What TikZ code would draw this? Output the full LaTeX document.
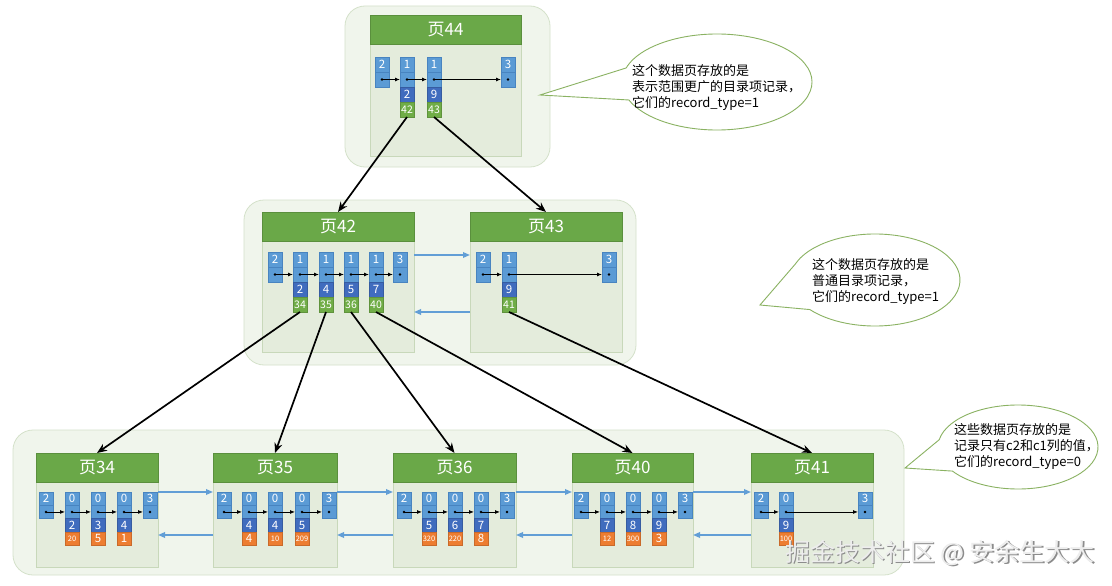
\documentclass[tikz,border=0pt]{standalone}
\usepackage{fontspec}
\setmainfont{Noto Sans CJK SC}
\usetikzlibrary{arrows.meta,calc}
\definecolor{hdr}{RGB}{106,168,72}
\definecolor{bodyfill}{RGB}{228,236,220}
\definecolor{bodyline}{RGB}{200,216,186}
\definecolor{grpfill}{RGB}{240,245,236}
\definecolor{grpline}{RGB}{212,225,202}
\definecolor{cblue}{RGB}{91,155,213}
\definecolor{cblueline}{RGB}{72,132,192}
\definecolor{cdark}{RGB}{64,108,190}
\definecolor{cgreen}{RGB}{112,173,71}
\definecolor{corange}{RGB}{237,125,49}
\definecolor{linkblue}{RGB}{98,158,214}
\definecolor{callline}{RGB}{138,178,98}
\newcommand\cellh{15}
\newcommand\infrec[4]{%
  \node[topcell] (#1t) at (#2,#3) {#4};
  \node[botcell] (#1b) at (#2,{#3+\cellh}) {};
  \fill (#1b.center) circle (1.4pt);
}
\newcommand\datrec[7]{%
  \infrec{#1}{#2}{#3}{#4}
  \node[darkcell] (#1k) at (#2,{#3+2*\cellh}) {#5};
  \node[#7] (#1g) at (#2,{#3+3*\cellh}) {#6};
}
\newcommand\pagebox[6]{%
  \node[bodybox, minimum width=#3, minimum height={#6-#4-29}] (b#1) at (#2,{#4+29}) {};
  \node[hdrbox, minimum width=#3, minimum height=29] (h#1) at (#2,#4) {#5};
}
\tikzset{
  cellbase/.style={anchor=north west, minimum width=14, minimum height=\cellh, inner sep=0pt, outer sep=0pt, text=white, font=\fontsize{11.5}{11.5}\selectfont, draw=cblueline, line width=0.4pt},
  topcell/.style={cellbase, fill=cblue},
  botcell/.style={cellbase, fill=cblue},
  darkcell/.style={cellbase, fill=cdark, draw=cdark!85!black},
  greencell/.style={cellbase, fill=cgreen, draw=cgreen!85!black, font=\fontsize{10.5}{10.5}\selectfont},
  orangecell/.style={cellbase, fill=corange, draw=corange!85!black},
  orangesmall/.style={orangecell, font=\fontsize{7.5}{7.5}\selectfont},
  hdrbox/.style={anchor=north west, fill=hdr, draw=hdr!85!black, line width=0.5pt, inner sep=0pt, outer sep=0pt, text=white, font=\fontsize{17}{17}\selectfont},
  bodybox/.style={anchor=north west, fill=bodyfill, draw=bodyline, line width=0.6pt, inner sep=0pt, outer sep=0pt},
  groupbox/.style={anchor=north west, fill=grpfill, draw=grpline, line width=0.8pt, rounded corners=20pt, inner sep=0pt, outer sep=0pt},
  recarrow/.style={-{Latex[length=5pt,width=4pt]}, line width=0.9pt},
  treearrow/.style={-{Stealth[length=10pt,width=8pt]}, line width=1.7pt},
  link/.style={-{Triangle[length=7pt,width=5.5pt]}, line width=1.6pt, draw=linkblue},
  callout/.style={draw=callline, fill=white, line width=0.9pt},
  calltext/.style={anchor=west, align=left, inner sep=0pt, font=\fontsize{13}{16}\selectfont},
}
\begin{document}
\begin{tikzpicture}[x=1pt,y=-1pt]
\useasboundingbox[fill=white] (0,0) rectangle (1112,586);
% groups
\node[groupbox, minimum width=205, minimum height=161] (g1) at (345,6) {};
\node[groupbox, minimum width=392, minimum height=165] (g2) at (244,200) {};
\node[groupbox, minimum width=891, minimum height=145] (g3) at (13,430) {};
% pages
\pagebox{44}{370}{151}{15}{页44}{156}
\pagebox{42}{262}{152}{212}{页42}{352}
\pagebox{43}{470}{152}{212}{页43}{352}
\pagebox{34}{36}{122}{453}{页34}{567}
\pagebox{35}{213}{124}{453}{页35}{567}
\pagebox{36}{393}{123}{453}{页36}{567}
\pagebox{40}{572}{121}{453}{页40}{567}
\pagebox{41}{751}{122}{453}{页41}{567}
% page 44 records
\renewcommand\cellh{15}
\infrec{p44a}{375}{57}{2}
\datrec{p44b}{400}{57}{1}{2}{42}{greencell}
\datrec{p44c}{427}{57}{1}{9}{43}{greencell}
\infrec{p44d}{501}{57}{3}
\draw[recarrow] (p44ab.center) -- (p44bb.west);
\draw[recarrow] (p44bb.center) -- (p44cb.west);
\draw[recarrow] (p44cb.center) -- (p44db.west);
% page 42 records
\infrec{p42a}{268}{252}{2}
\datrec{p42b}{293}{252}{1}{2}{34}{greencell}
\datrec{p42c}{319}{252}{1}{4}{35}{greencell}
\datrec{p42d}{344}{252}{1}{5}{36}{greencell}
\datrec{p42e}{369}{252}{1}{7}{40}{greencell}
\infrec{p42f}{393}{252}{3}
\draw[recarrow] (p42ab.center) -- (p42bb.west);
\draw[recarrow] (p42bb.center) -- (p42cb.west);
\draw[recarrow] (p42cb.center) -- (p42db.west);
\draw[recarrow] (p42db.center) -- (p42eb.west);
\draw[recarrow] (p42eb.center) -- (p42fb.west);
% page 43 records
\infrec{p43a}{476}{252}{2}
\datrec{p43b}{502}{252}{1}{9}{41}{greencell}
\infrec{p43c}{602}{252}{3}
\draw[recarrow] (p43ab.center) -- (p43bb.west);
\draw[recarrow] (p43bb.center) -- (p43cb.west);
% bottom pages
\renewcommand\cellh{13.3}
\infrec{p34a}{39}{492}{2}
\datrec{p34b}{65}{492}{0}{2}{20}{orangesmall}
\datrec{p34c}{91}{492}{0}{3}{5}{orangecell}
\datrec{p34d}{117}{492}{0}{4}{1}{orangecell}
\infrec{p34e}{143}{492}{3}
\draw[recarrow] (p34ab.center) -- (p34bb.west);
\draw[recarrow] (p34bb.center) -- (p34cb.west);
\draw[recarrow] (p34cb.center) -- (p34db.west);
\draw[recarrow] (p34db.center) -- (p34eb.west);
\infrec{p35a}{217}{492}{2}
\datrec{p35b}{242}{492}{0}{4}{4}{orangecell}
\datrec{p35c}{268}{492}{0}{4}{10}{orangesmall}
\datrec{p35d}{295}{492}{0}{5}{209}{orangesmall}
\infrec{p35e}{322}{492}{3}
\draw[recarrow] (p35ab.center) -- (p35bb.west);
\draw[recarrow] (p35bb.center) -- (p35cb.west);
\draw[recarrow] (p35cb.center) -- (p35db.west);
\draw[recarrow] (p35db.center) -- (p35eb.west);
\infrec{p36a}{397}{492}{2}
\datrec{p36b}{422}{492}{0}{5}{320}{orangesmall}
\datrec{p36c}{448}{492}{0}{6}{220}{orangesmall}
\datrec{p36d}{474}{492}{0}{7}{8}{orangecell}
\infrec{p36e}{500}{492}{3}
\draw[recarrow] (p36ab.center) -- (p36bb.west);
\draw[recarrow] (p36bb.center) -- (p36cb.west);
\draw[recarrow] (p36cb.center) -- (p36db.west);
\draw[recarrow] (p36db.center) -- (p36eb.west);
\infrec{p40a}{574}{492}{2}
\datrec{p40b}{600}{492}{0}{7}{12}{orangesmall}
\datrec{p40c}{626}{492}{0}{8}{300}{orangesmall}
\datrec{p40d}{652}{492}{0}{9}{3}{orangecell}
\infrec{p40e}{678}{492}{3}
\draw[recarrow] (p40ab.center) -- (p40bb.west);
\draw[recarrow] (p40bb.center) -- (p40cb.west);
\draw[recarrow] (p40cb.center) -- (p40db.west);
\draw[recarrow] (p40db.center) -- (p40eb.west);
\infrec{p41a}{754}{492}{2}
\datrec{p41b}{779}{492}{0}{9}{100}{orangesmall}
\infrec{p41c}{858}{492}{3}
\draw[recarrow] (p41ab.center) -- (p41bb.west);
\draw[recarrow] (p41bb.center) -- (p41cb.west);
% sibling links
\draw[link] ($(b42.north east)+(0,14)$) -- ($(b43.north west)+(0,14)$);
\draw[link] ($(b43.north west)+(0,71)$) -- ($(b42.north east)+(0,71)$);
\foreach \l/\r in {34/35,35/36,36/40,40/41}{
  \draw[link] ($(b\l.north east)+(0,10)$) -- ($(b\r.north west)+(0,10)$);
  \draw[link] ($(b\r.north west)+(0,53)$) -- ($(b\l.north east)+(0,53)$);
}
% tree arrows
\draw[treearrow] (p44bg.south) -- (h42.north);
\draw[treearrow] (p44cg.south) -- (h43.north);
\draw[treearrow] (p42bg.south) -- (h34.north);
\draw[treearrow] (p42cg.south) -- (h35.north);
\draw[treearrow] (p42dg.south) -- (h36.north);
\draw[treearrow] (p42eg.south) -- (h40.north);
\draw[treearrow] (p43bg.south) -- (h41.north);
% callouts
\draw[callout] (717,82) ++(197:95 and 48) arc[start angle=197, end angle=518, x radius=95, y radius=48] -- (540,95) -- cycle;
\node[calltext] (t1) at (632,88) {这个数据页存放的是\\表示范围更广的目录项记录，\\它们的record\_type=1};
\draw[callout] (875,280) ++(200:85 and 46) arc[start angle=200, end angle=500, x radius=85, y radius=46] -- (760,305) -- cycle;
\node[calltext] (t2) at (812,282) {这个数据页存放的是\\普通目录项记录，\\它们的record\_type=1};
\draw[callout] (1018,447) ++(190:80 and 42) arc[start angle=190, end angle=505, x radius=80, y radius=42] -- (905,468) -- cycle;
\node[calltext] (t3) at (954,447) {这些数据页存放的是\\记录只有c2和c1列的值，\\它们的record\_type=0};
% watermark
\node[font=\fontsize{25}{25}\selectfont, text=black!45, inner sep=0pt] (wm1) at (941.5,554.5) {掘金技术社区 @ 安余生大大};
\node[font=\fontsize{25}{25}\selectfont, text=white!93!black, inner sep=0pt] (wm2) at (940,553) {掘金技术社区 @ 安余生大大};
\end{tikzpicture}
\end{document}
